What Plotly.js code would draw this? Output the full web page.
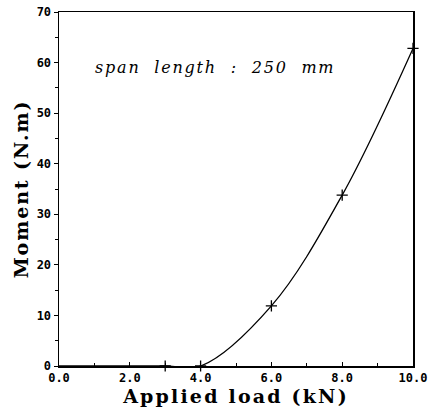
<!DOCTYPE html>
<html>
<head>
<meta charset="utf-8">
<script src="https://cdn.plot.ly/plotly-3.0.1.min.js"></script>
<style>
html,body{margin:0;padding:0;background:#fff;}
#chart{width:433px;height:410px;}
.xtitle{letter-spacing:2.2px;}
.ytitle{letter-spacing:1.9px;}
.annotation-text{letter-spacing:1.8px;}
</style>
</head>
<body>
<div id="chart"></div>
<script>
var loadKN = [0.0, 3.0, 4.0, 6.0, 8.0, 10.0];
var momentNm = [0, 0, 0, 11.9, 33.8, 62.8];
var xTickVals = [0, 2, 4, 6, 8, 10];
var xTickText = ['0.0', '2.0', '4.0', '6.0', '8.0', '10.0'];
var yTickVals = [0, 10, 20, 30, 40, 50, 60, 70];
var noteText = 'span\u00a0\u00a0length\u00a0\u00a0:\u00a0\u00a0250\u00a0\u00a0mm';

var traces = [
  {x: loadKN, y: momentNm, mode: 'lines',
   line: {shape: 'spline', smoothing: 1, color: '#000', width: 1.3},
   cliponaxis: true, showlegend: false},
  {x: loadKN.slice(1), y: momentNm.slice(1), mode: 'markers',
   marker: {symbol: 'cross-thin-open', size: 8, color: '#000', line: {color: '#000', width: 1.3}},
   cliponaxis: false, showlegend: false}
];

var layout = {
  width: 433, height: 410,
  margin: {l: 59, r: 20, t: 12, b: 44},
  paper_bgcolor: '#fff', plot_bgcolor: '#fff',
  xaxis: {
    range: [0, 10], tickvals: xTickVals, ticktext: xTickText,
    showgrid: false, zeroline: false, showline: true, mirror: true,
    linecolor: '#000', linewidth: 1.5,
    ticks: 'inside', ticklen: 4, tickwidth: 1, tickcolor: '#000',
    minor: {dtick: 1, tick0: 0, ticks: 'inside', ticklen: 3, tickcolor: '#000', showgrid: false},
    tickfont: {family: 'DejaVu Sans Mono', size: 12, color: '#000', weight: 'bold'},
    title: {text: 'Applied load (kN)', standoff: 1,
      font: {family: 'DejaVu Serif', size: 19, color: '#000', weight: 'bold'}}
  },
  yaxis: {
    range: [0, 70], tickvals: yTickVals,
    showgrid: false, zeroline: false, showline: true, mirror: true,
    linecolor: '#000', linewidth: 1.5,
    ticks: 'outside', ticklen: 4, tickwidth: 1, tickcolor: '#000',
    minor: {dtick: 5, tick0: 0, ticks: 'outside', ticklen: 3, tickcolor: '#000', showgrid: false},
    tickfont: {family: 'DejaVu Sans Mono', size: 12, color: '#000', weight: 'bold'},
    title: {text: 'Moment (N.m)', standoff: 3,
      font: {family: 'DejaVu Serif', size: 19, color: '#000', weight: 'bold'}}
  },
  annotations: [{
    x: 4.4, y: 59, xref: 'x', yref: 'y', showarrow: false,
    text: noteText,
    font: {family: 'DejaVu Serif', size: 16, color: '#000', style: 'italic'}
  }]
};

Plotly.newPlot('chart', traces, layout, {staticPlot: true, displayModeBar: false});
</script>
</body>
</html>
